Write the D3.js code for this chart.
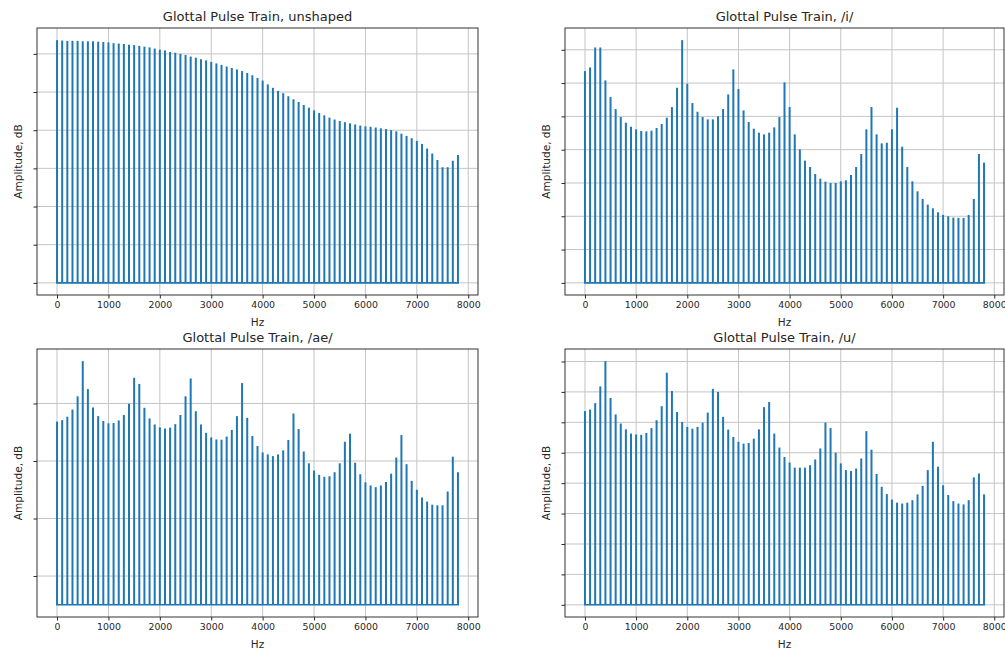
<!DOCTYPE html>
<html>
<head>
<meta charset="utf-8">
<script src="https://cdn.jsdelivr.net/npm/d3@7"></script>
<style>
  body{margin:0;background:#fff;}
  svg{display:block;font-family:"DejaVu Sans",sans-serif;}
  .domain{display:none;}
</style>
</head>
<body>
<svg id="chart" width="1005" height="651"></svg>
<script>
// harmonic frequencies (Hz), one stem per harmonic
const harmonics=[0,100,200,300,400,500,600,700,800,900,1000,1100,1200,1300,1400,1500,1600,1700,1800,1900,
  2000,2100,2200,2300,2400,2500,2600,2700,2800,2900,3000,3100,3200,3300,3400,3500,3600,3700,3800,3900,
  4000,4100,4200,4300,4400,4500,4600,4700,4800,4900,5000,5100,5200,5300,5400,5500,5600,5700,5800,5900,
  6000,6100,6200,6300,6400,6500,6600,6700,6800,6900,7000,7100,7200,7300,7400,7500,7600,7700,7800]

// amplitudes in dB
const unshaped=[63.6,63.5,63.4,63.4,63.4,63.3,63.3,63.3,63.2,63.1,63.0,62.8,62.7,62.6,62.4,62.3,62.1,61.9,61.7,61.4,
  61.1,60.9,60.5,60.3,60.0,59.7,59.3,59.0,58.6,58.3,57.9,57.5,57.1,56.7,56.3,55.9,55.5,55.0,54.4,53.7,
  53.0,52.0,51.1,50.3,49.7,48.9,48.1,47.4,46.6,45.9,45.2,44.5,43.9,43.3,42.8,42.4,42.1,41.8,41.5,41.2,
  41.0,40.9,40.7,40.5,40.3,40.0,39.7,39.1,38.5,37.9,37.2,36.4,35.2,33.9,32.2,30.3,30.3,32.0,33.5]
const vowelI=[63.6,64.7,70.7,70.7,60.8,55.8,52.2,49.8,48.1,46.9,46.1,45.6,45.5,45.7,46.5,47.7,49.6,52.8,58.6,72.9,
  59.8,54.0,51.4,49.8,49.1,49.1,50.0,52.2,56.6,64.1,58.2,51.8,48.3,46.3,45.1,44.6,45.1,46.7,49.8,60.2,
  52.8,44.6,40.1,36.7,34.8,32.7,31.3,30.4,30.0,30.0,30.5,30.8,32.4,34.8,38.7,46.1,52.8,44.6,41.9,42.1,
  46.1,52.6,40.9,34.8,30.5,27.5,25.2,23.5,22.4,21.2,20.4,20.0,19.6,19.5,19.5,20.4,25.2,38.7,36.1]
const vowelAe=[73.7,74.2,75.4,77.9,82.5,94.7,85.0,78.6,75.6,73.9,73.1,73.2,74.1,76.0,79.9,88.9,86.8,78.5,74.8,72.7,
  71.7,71.3,71.6,72.8,76.0,82.5,88.7,77.3,72.7,69.8,68.2,67.5,67.4,68.5,70.8,75.6,87.1,75.0,68.7,65.2,
  63.0,62.3,61.7,62.3,63.7,67.3,76.5,71.1,63.3,59.2,56.7,55.2,54.5,54.7,56.1,59.2,66.7,69.5,59.4,55.4,
  52.6,51.5,50.9,51.5,52.7,55.6,61.2,69.0,58.9,53.1,50.0,47.3,45.9,44.8,44.6,44.6,49.4,61.5,56.1]
const vowelU=[63.7,64.2,66.3,71.8,80.1,68.0,62.6,59.6,57.7,56.3,56.0,55.9,56.5,58.1,60.7,65.3,76.3,70.3,63.4,60.1,
  58.5,57.9,58.5,59.9,63.2,71.0,70.0,61.8,57.6,55.2,53.6,53.0,53.2,54.6,57.7,65.0,66.7,56.3,51.7,48.6,
  46.8,45.1,45.1,45.1,45.9,47.8,51.4,59.9,58.1,50.0,46.5,44.3,44.0,44.8,48.1,57.1,51.0,43.0,38.8,36.4,
  34.6,33.6,33.3,33.6,34.4,36.3,39.1,44.3,53.6,45.4,39.3,36.1,34.1,33.3,33.0,34.4,41.9,43.2,36.3]

const titles=["Glottal Pulse Train, unshaped","Glottal Pulse Train, /i/","Glottal Pulse Train, /ae/","Glottal Pulse Train, /u/"]
const baselines=[0,0,10,0]
const yTicks=[[0,10,20,30,40,50,60],[0,10,20,30,40,50,60,70],[20,40,60,80],[0,10,20,30,40,50,60,70,80]]
const xTicks=[0,1000,2000,3000,4000,5000,6000,7000,8000]
const xLabel="Hz"
const yLabel="Amplitude, dB"

// axes boxes: left, top, right, bottom
const boxes=[[37,28,478,295],[565,28,1004,295],[37,349,478,617],[565,349,1004,617]]
const series=[unshaped,vowelI,vowelAe,vowelU]

const svg=d3.select("#chart")
const blue="#1f77b4"
const ink="#262626"

series.forEach((vals,p)=>{
  const [l,t,r,b]=boxes[p]
  const base=baselines[p]
  const fmin=d3.min(harmonics),fmax=d3.max(harmonics)
  const fpad=(fmax-fmin)*0.05
  const xscale=d3.scaleLinear().domain([fmin-fpad,fmax+fpad]).range([l,r])
  const vmax=d3.max(vals)
  const vpad=(vmax-base)*0.05
  const yscale=d3.scaleLinear().domain([base-vpad,vmax+vpad]).range([b,t])

  const g=svg.append("g")

  // grid
  g.append("g").selectAll("line").data(xTicks.filter(d=>xscale(d)<=r)).enter().append("line")
    .attr("x1",d=>xscale(d)).attr("x2",d=>xscale(d)).attr("y1",t).attr("y2",b)
    .attr("stroke","#c4c4c4").attr("stroke-width",1)
  g.append("g").selectAll("line").data(yTicks[p]).enter().append("line")
    .attr("x1",l).attr("x2",r).attr("y1",d=>yscale(d)).attr("y2",d=>yscale(d))
    .attr("stroke","#c4c4c4").attr("stroke-width",1)

  // stems
  g.append("g").selectAll("line").data(vals).enter().append("line")
    .attr("x1",(d,i)=>xscale(harmonics[i])).attr("x2",(d,i)=>xscale(harmonics[i]))
    .attr("y1",yscale(base)).attr("y2",d=>yscale(d))
    .attr("stroke",blue).attr("stroke-width",2)
  g.append("line")
    .attr("x1",xscale(fmin)-1).attr("x2",xscale(fmax)+1)
    .attr("y1",yscale(base)).attr("y2",yscale(base))
    .attr("stroke",blue).attr("stroke-width",1.6)

  // axes
  const xaxis=d3.axisBottom(xscale).tickValues(xTicks).tickSize(3.5).tickPadding(3)
    .tickFormat(d3.format("d"))
  const xg=g.append("g").attr("transform","translate(0,"+b+")").call(xaxis)
  xg.selectAll("text").attr("fill",ink).style("font-size","9.4px").attr("font-family","DejaVu Sans")
  xg.selectAll("line").attr("stroke",ink)
  const yaxis=d3.axisLeft(yscale).tickValues(yTicks[p]).tickSize(3.5).tickFormat("")
  const yg=g.append("g").attr("transform","translate("+l+",0)").call(yaxis)
  yg.selectAll("line").attr("stroke",ink)

  g.append("rect").attr("x",l).attr("y",t).attr("width",r-l).attr("height",b-t)
    .attr("fill","none").attr("stroke","#333").attr("stroke-width",1)

  // labels
  g.append("text").attr("x",(l+r)/2).attr("y",t-7).attr("text-anchor","middle")
    .attr("fill",ink).style("font-size","13px").text(titles[p])
  g.append("text").attr("x",(l+r)/2).attr("y",b+31).attr("text-anchor","middle")
    .attr("fill",ink).style("font-size","10.5px").text(xLabel)
  g.append("text").attr("transform","translate("+(l-15)+","+((t+b)/2)+") rotate(-90)")
    .attr("text-anchor","middle").attr("fill",ink).style("font-size","10.5px").text(yLabel)
})
</script>
</body>
</html>
